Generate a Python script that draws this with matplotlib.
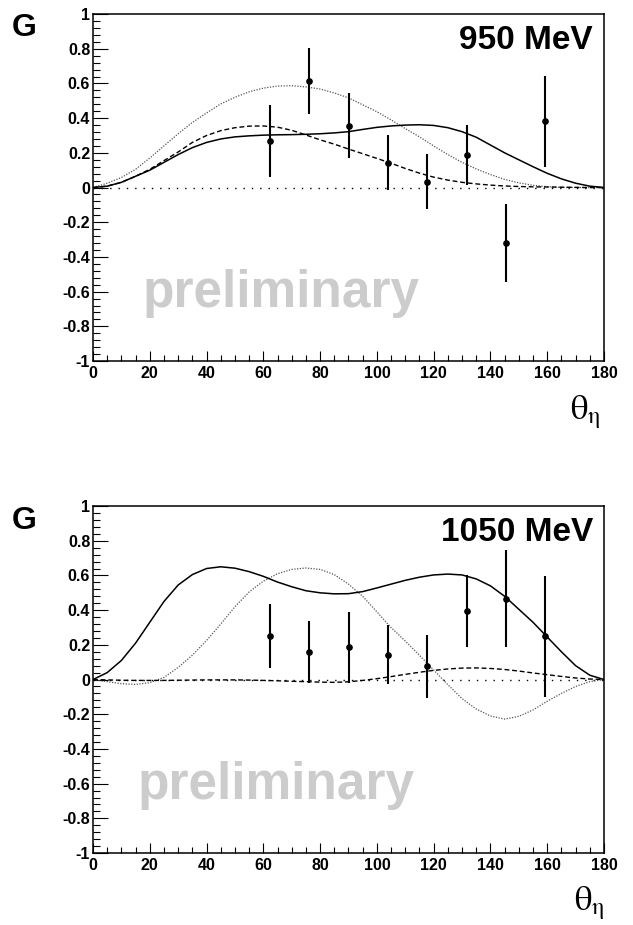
import matplotlib
matplotlib.use("Agg")
import matplotlib.pyplot as plt
import numpy as np
from matplotlib.ticker import MultipleLocator

plt.rcParams["font.family"] = ["Liberation Sans", "DejaVu Sans"]

# angle grid for the model curves (degrees)
theta = list(range(0, 181, 5))

# 950 MeV curves
sol_950 = [0, 0.008, 0.03, 0.065, 0.10, 0.145, 0.19, 0.23, 0.26, 0.28, 0.292, 0.298,
           0.302, 0.304, 0.305, 0.307, 0.31, 0.315, 0.322, 0.335, 0.347, 0.355, 0.36,
           0.362, 0.358, 0.345, 0.322, 0.29, 0.245, 0.2, 0.16, 0.12, 0.082, 0.05,
           0.025, 0.008, 0]
dash_950 = [0, 0.008, 0.03, 0.065, 0.105, 0.155, 0.205, 0.26, 0.30, 0.328, 0.345, 0.354,
            0.355, 0.348, 0.33, 0.303, 0.275, 0.25, 0.222, 0.195, 0.168, 0.14, 0.11,
            0.083, 0.06, 0.043, 0.03, 0.021, 0.014, 0.009, 0.006, 0.004, 0.003, 0.002,
            0.001, 0, 0]
dot_950 = [0, 0.025, 0.058, 0.105, 0.17, 0.24, 0.31, 0.375, 0.43, 0.482, 0.52, 0.552,
           0.573, 0.585, 0.587, 0.58, 0.568, 0.545, 0.517, 0.477, 0.437, 0.39, 0.34,
           0.292, 0.24, 0.19, 0.145, 0.107, 0.075, 0.047, 0.027, 0.013, 0.005, 0.001,
           0, 0, 0]

# 1050 MeV curves
sol_1050 = [0, 0.04, 0.11, 0.21, 0.33, 0.45, 0.545, 0.605, 0.64, 0.65, 0.642, 0.622,
            0.595, 0.562, 0.535, 0.512, 0.5, 0.494, 0.495, 0.507, 0.528, 0.55, 0.572,
            0.59, 0.603, 0.608, 0.603, 0.58, 0.54, 0.48, 0.405, 0.33, 0.245, 0.16,
            0.08, 0.025, 0]
dash_1050 = [0, -0.002, -0.004, -0.005, -0.005, -0.005, -0.004, -0.003, -0.002, -0.002,
             -0.002, -0.003, -0.005, -0.007, -0.01, -0.012, -0.015, -0.016, -0.013,
             -0.005, 0.005, 0.017, 0.03, 0.042, 0.053, 0.061, 0.066, 0.067, 0.064,
             0.058, 0.049, 0.038, 0.028, 0.018, 0.009, 0.003, 0]
dot_1050 = [0, -0.012, -0.024, -0.028, -0.018, 0.012, 0.07, 0.14, 0.225, 0.32, 0.42,
            0.505, 0.567, 0.61, 0.635, 0.643, 0.635, 0.605, 0.55, 0.48, 0.39, 0.3,
            0.222, 0.14, 0.055, -0.03, -0.11, -0.17, -0.21, -0.228, -0.212, -0.175,
            -0.125, -0.08, -0.04, -0.012, 0]

# measured points
theta_pts = [62.3, 76.2, 90.2, 104.0, 117.7, 131.6, 145.4, 159.2]
g_950 = [0.266, 0.612, 0.356, 0.143, 0.033, 0.186, -0.318, 0.383]
err_950 = [0.207, 0.19, 0.187, 0.157, 0.158, 0.173, 0.224, 0.262]
g_1050 = [0.25, 0.16, 0.186, 0.144, 0.077, 0.396, 0.465, 0.25]
err_1050 = [0.185, 0.18, 0.205, 0.172, 0.182, 0.206, 0.28, 0.348]

ytick_vals = [-1, -0.8, -0.6, -0.4, -0.2, 0, 0.2, 0.4, 0.6, 0.8, 1]
ytick_labels = ["-1", "-0.8", "-0.6", "-0.4", "-0.2", "0", "0.2", "0.4", "0.6", "0.8", "1"]
xtick_vals = [0, 20, 40, 60, 80, 100, 120, 140, 160, 180]

fig = plt.figure(figsize=(6.33, 9.25), dpi=100)
ax1 = fig.add_axes([0.1469, 0.6097, 0.8073, 0.3751])
ax2 = fig.add_axes([0.1469, 0.0778, 0.8073, 0.3751])


def panel(ax, sol, dash, dot, g, err, label, prelim_x):
    ax.plot([0, 180], [0, 0], color="black", lw=1.0, ls=(0, (1, 5)))
    ax.plot(theta, dot, color="#555555", lw=0.9, ls=(0, (1, 1.2)))
    ax.plot(theta, dash, color="black", lw=1.0, ls=(0, (3.5, 2)))
    ax.plot(theta, sol, color="black", lw=1.1)
    ax.errorbar(theta_pts, g, yerr=err, fmt="o", color="black", ms=3.8,
                elinewidth=1.5, capsize=0)
    ax.text(prelim_x, -0.69, "preliminary", color="#cccccc", fontsize=37,
            fontweight="bold", ha="center", va="baseline", zorder=0)
    ax.text(0.9785, 0.968, label, transform=ax.transAxes, fontsize=24,
            fontweight="bold", ha="right", va="top")
    ax.set_xlim(0, 180)
    ax.set_ylim(-1, 1)
    ax.set_xticks(xtick_vals)
    ax.set_yticks(ytick_vals)
    ax.set_yticklabels(ytick_labels)
    ax.xaxis.set_minor_locator(MultipleLocator(5))
    ax.yaxis.set_minor_locator(MultipleLocator(0.04))
    ax.tick_params(which="both", direction="in", top=False, right=False, width=0.8)
    ax.tick_params(axis="x", which="major", length=7.2, pad=3.5)
    ax.tick_params(axis="x", which="minor", length=4.3)
    ax.tick_params(axis="y", which="major", length=10.8, pad=2)
    ax.tick_params(axis="y", which="minor", length=5)
    for lab in ax.get_xticklabels() + ax.get_yticklabels():
        lab.set_fontweight("bold")
        lab.set_fontsize(11.5)
    for sp in ax.spines.values():
        sp.set_linewidth(1.1)


panel(ax1, sol_950, dash_950, dot_950, g_950, err_950, "950 MeV", 66.2)
panel(ax2, sol_1050, dash_1050, dot_1050, g_1050, err_1050, "1050 MeV", 64.6)

fig.text(0.019, 0.986, "G", fontsize=23, fontweight="bold", va="top", ha="left")
fig.text(0.019, 0.4525, "G", fontsize=23, fontweight="bold", va="top", ha="left")

th_label = r"$\mathrm{\theta}_{\mathrm{\eta}}$"
fig.text(0.949, 0.574, th_label, fontsize=25, math_fontfamily="stix", ha="right", va="top")
fig.text(0.956, 0.044, th_label, fontsize=25, math_fontfamily="stix", ha="right", va="top")

fig.savefig("out.png", dpi=100)
